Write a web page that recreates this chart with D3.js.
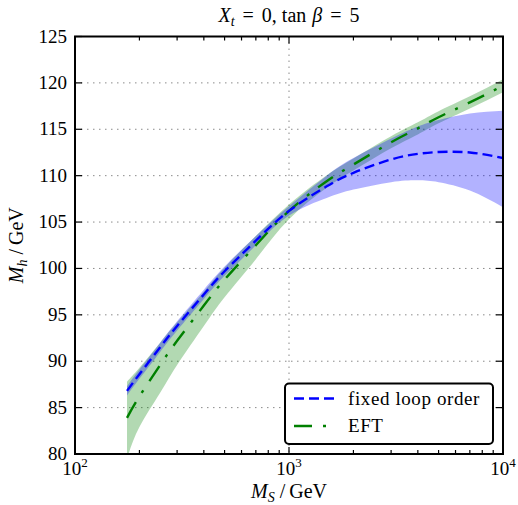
<!DOCTYPE html>
<html>
<head>
<meta charset="utf-8">
<script src="https://cdn.jsdelivr.net/npm/d3@7"></script>
<style>
  body { margin: 0; background: #fff; }
  text { font-family: "Liberation Serif", serif; fill: #000; }
</style>
</head>
<body>
<div id="chart"></div>
<script>
// M_S in GeV
var msValues = [175, 200, 250, 300, 400, 500, 700, 1000, 1500, 2000, 3000, 4000, 5000, 7000, 10000];

// fixed loop order
var fixedCentral = [86.8, 88.6, 91.5, 93.8, 97.2, 99.7, 103.0, 106.2, 108.85, 110.3, 111.75, 112.35, 112.55, 112.5, 111.9];
var fixedLow     = [86.3, 88.1, 91.0, 93.3, 96.7, 99.2, 102.5, 105.7, 107.6, 108.5, 109.3, 109.5, 109.3, 108.4, 106.6];
var fixedHigh    = [87.3, 89.1, 92.0, 94.3, 97.7, 100.2, 103.5, 106.7, 110.0, 111.9, 114.0, 115.3, 116.0, 116.7, 117.0];

// EFT
var eftCentral = [83.9, 86.2, 89.6, 92.2, 96.0, 98.8, 102.5, 106.2, 109.4, 111.2, 113.6, 115.1, 116.3, 117.9, 119.7];
var eftLow     = [79.5, 82.9, 86.6, 89.6, 93.8, 96.9, 101.0, 105.3, 108.7, 110.55, 112.95, 114.45, 115.65, 117.25, 119.0];
var eftHigh    = [87.8, 89.3, 92.0, 94.2, 97.5, 100.1, 103.5, 106.9, 110.05, 111.85, 114.25, 115.75, 116.95, 118.55, 120.4];

var yTicks = [80, 85, 90, 95, 100, 105, 110, 115, 120, 125];
var xMajor = [100, 1000, 10000];
var xExp = ["2", "3", "4"];

var width = 518, height = 505;
var margin = {top: 36.5, left: 75, right: 15, bottom: 51};

var svg = d3.select("#chart").append("svg")
    .attr("width", width)
    .attr("height", height);

var xScale = d3.scaleLog()
    .domain([100, 10000])
    .range([margin.left, width - margin.right]);

var yScale = d3.scaleLinear()
    .domain([80, 125])
    .range([height - margin.bottom, margin.top]);

var x0 = xScale.range()[0], x1 = xScale.range()[1];
var y0 = yScale.range()[0], y1 = yScale.range()[1];

svg.append("clipPath").attr("id", "clip")
  .append("rect")
    .attr("x", x0).attr("y", y1)
    .attr("width", x1 - x0).attr("height", y0 - y1);

// grid
var grid = svg.append("g")
    .attr("stroke", "#8a8a8a")
    .attr("stroke-width", 1)
    .attr("stroke-dasharray", "1.5,4.5");

grid.selectAll(".gy")
    .data(yTicks.slice(1, -1))
    .enter().append("line")
      .attr("x1", x0).attr("x2", x1)
      .attr("y1", function(d) { return yScale(d); })
      .attr("y2", function(d) { return yScale(d); });

grid.append("line")
    .attr("x1", xScale(1000)).attr("x2", xScale(1000))
    .attr("y1", y1).attr("y2", y0);

var rows = msValues.map(function(m, i) {
    return {m: m, fc: fixedCentral[i], fl: fixedLow[i], fh: fixedHigh[i],
            ec: eftCentral[i], el: eftLow[i], eh: eftHigh[i]};
});

var plot = svg.append("g").attr("clip-path", "url(#clip)");

var curve = d3.curveNatural;

var eftArea = d3.area()
    .x(function(d) { return xScale(d.m); })
    .y0(function(d) { return yScale(d.el); })
    .y1(function(d) { return yScale(d.eh); })
    .curve(curve);

var fixedArea = d3.area()
    .x(function(d) { return xScale(d.m); })
    .y0(function(d) { return yScale(d.fl); })
    .y1(function(d) { return yScale(d.fh); })
    .curve(curve);

plot.append("path")
    .datum(rows)
    .attr("d", eftArea)
    .attr("fill", "green")
    .attr("fill-opacity", 0.3);

plot.append("path")
    .datum(rows)
    .attr("d", fixedArea)
    .attr("fill", "blue")
    .attr("fill-opacity", 0.3);

var fixedLine = d3.line()
    .x(function(d) { return xScale(d.m); })
    .y(function(d) { return yScale(d.fc); })
    .curve(curve);

var eftLine = d3.line()
    .x(function(d) { return xScale(d.m); })
    .y(function(d) { return yScale(d.ec); })
    .curve(curve);

var blueDash = "10,5", greenDash = "18,11,3,11";

plot.append("path")
    .datum(rows)
    .attr("d", eftLine)
    .attr("fill", "none")
    .attr("stroke", "green")
    .attr("stroke-width", 2.4)
    .attr("stroke-dasharray", greenDash);

plot.append("path")
    .datum(rows)
    .attr("d", fixedLine)
    .attr("fill", "none")
    .attr("stroke", "blue")
    .attr("stroke-width", 2.4)
    .attr("stroke-dasharray", blueDash);

// ticks (inside, all four sides)
var minor = [];
[100, 1000].forEach(function(dec) {
    for (var k = 2; k <= 9; k++) minor.push(dec * k);
});

var ticks = svg.append("g").attr("stroke", "#000").attr("stroke-width", 1.2);

minor.forEach(function(m) {
    var x = xScale(m);
    ticks.append("line").attr("x1", x).attr("x2", x).attr("y1", y0).attr("y2", y0 - 4);
    ticks.append("line").attr("x1", x).attr("x2", x).attr("y1", y1).attr("y2", y1 + 4);
});
xMajor.forEach(function(m) {
    var x = xScale(m);
    ticks.append("line").attr("x1", x).attr("x2", x).attr("y1", y0).attr("y2", y0 - 7);
    ticks.append("line").attr("x1", x).attr("x2", x).attr("y1", y1).attr("y2", y1 + 7);
});
yTicks.forEach(function(v) {
    var y = yScale(v);
    ticks.append("line").attr("x1", x0).attr("x2", x0 + 7).attr("y1", y).attr("y2", y);
    ticks.append("line").attr("x1", x1).attr("x2", x1 - 7).attr("y1", y).attr("y2", y);
});

// frame
svg.append("rect")
    .attr("x", x0).attr("y", y1)
    .attr("width", x1 - x0).attr("height", y0 - y1)
    .attr("fill", "none")
    .attr("stroke", "#000")
    .attr("stroke-width", 2);

// y tick labels
svg.selectAll(".ylab")
    .data(yTicks)
    .enter().append("text")
      .attr("x", x0 - 8)
      .attr("y", function(d) { return yScale(d) + 6; })
      .attr("text-anchor", "end")
      .attr("font-size", 19)
      .text(function(d) { return d; });

// x tick labels 10^n
xMajor.forEach(function(m, i) {
    var t = svg.append("text")
        .attr("x", xScale(m))
        .attr("y", y0 + 21)
        .attr("text-anchor", "middle")
        .attr("font-size", 19);
    t.append("tspan").text("10");
    t.append("tspan").attr("dy", -8).attr("font-size", 13).text(xExp[i]);
});

// axis labels
var xl = svg.append("text")
    .attr("x", (x0 + x1) / 2)
    .attr("y", height - 7)
    .attr("text-anchor", "middle")
    .attr("font-size", 20);
xl.append("tspan").attr("font-style", "italic").text("M");
xl.append("tspan").attr("font-style", "italic").attr("font-size", 14).attr("dy", 4).text("S");
xl.append("tspan").attr("dy", -4).attr("dx", 5).text("/");
xl.append("tspan").attr("dx", 4).text("GeV");

var yl = svg.append("text")
    .attr("transform", "translate(" + 23 + "," + ((y0 + y1) / 2) + ") rotate(-90)")
    .attr("text-anchor", "middle")
    .attr("font-size", 20);
yl.append("tspan").attr("font-style", "italic").text("M");
yl.append("tspan").attr("font-style", "italic").attr("font-size", 14).attr("dy", 4).text("h");
yl.append("tspan").attr("dy", -4).attr("dx", 5).text("/");
yl.append("tspan").attr("dx", 4).text("GeV");

// title
var title = svg.append("text")
    .attr("x", (x0 + x1) / 2)
    .attr("y", 22)
    .attr("text-anchor", "middle")
    .attr("font-size", 20);
title.append("tspan").attr("font-style", "italic").text("X");
title.append("tspan").attr("font-style", "italic").attr("font-size", 14).attr("dy", 4).text("t");
title.append("tspan").attr("dy", -4).attr("dx", 8).text("=");
title.append("tspan").attr("dx", 8).text("0,");
title.append("tspan").attr("dx", 5).text("tan");
title.append("tspan").attr("dx", 6).attr("font-style", "italic").text("β");
title.append("tspan").attr("dx", 8).text("=");
title.append("tspan").attr("dx", 8).text("5");

// legend
var legend = svg.append("g");
legend.append("rect")
    .attr("x", 285).attr("y", 383.5)
    .attr("width", 208).attr("height", 60.5)
    .attr("rx", 4)
    .attr("fill", "#fff")
    .attr("stroke", "#000")
    .attr("stroke-width", 2);

var legendItems = [
    {label: "fixed loop order", color: "blue", dash: blueDash},
    {label: "EFT", color: "green", dash: greenDash}
];
legendItems.forEach(function(d, i) {
    var y = 398.5 + i * 27.5;
    legend.append("line")
        .attr("x1", 294).attr("x2", 334)
        .attr("y1", y).attr("y2", y)
        .attr("stroke", d.color)
        .attr("stroke-width", 2.4)
        .attr("stroke-dasharray", d.dash);
    legend.append("text")
        .attr("x", 348)
        .attr("y", y + 6)
        .attr("font-size", 19)
        .attr("letter-spacing", 0.6)
        .text(d.label);
});
</script>
</body>
</html>
